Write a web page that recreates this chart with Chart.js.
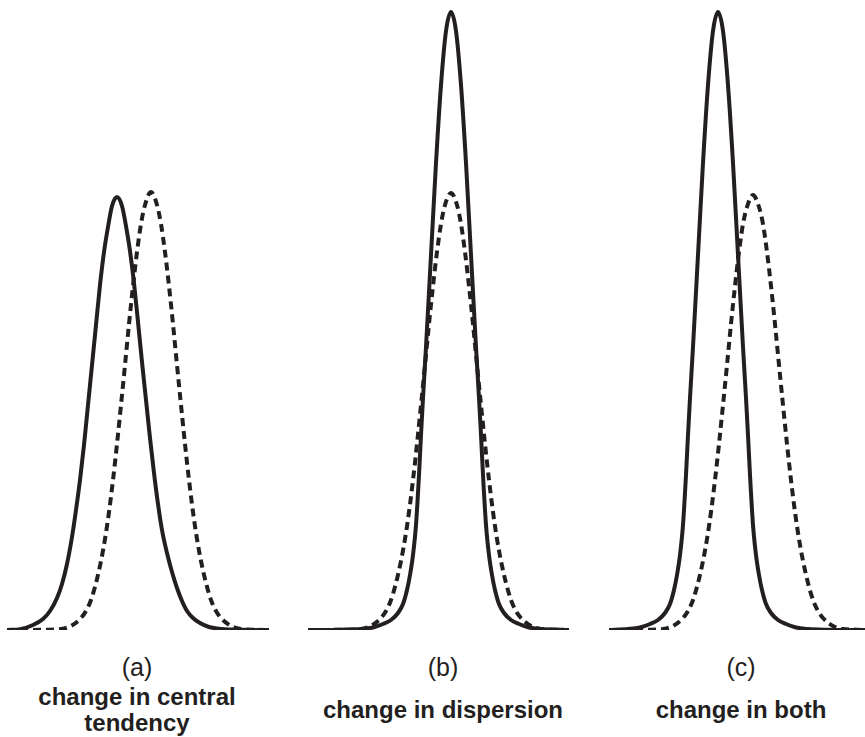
<!DOCTYPE html>
<html>
<head>
<meta charset="utf-8">
<script src="https://cdn.jsdelivr.net/npm/chart.js@4"></script>
<style>
  body { margin: 0; background: #fff; }
  #wrap { position: relative; width: 865px; height: 737px; overflow: hidden; font-family: "Liberation Sans", Arial, sans-serif; color: #231f20; }
  canvas { position: absolute; top: 0; }
  .cap { position: absolute; text-align: center; width: 300px; }
  .letter { font-size: 25px; line-height: 28px; }
  .title { font-size: 24px; font-weight: bold; line-height: 26px; }
</style>
</head>
<body>
<div id="wrap">
  <canvas id="panelA" width="262" height="640" style="left:7px"></canvas>
  <canvas id="panelB" width="261" height="640" style="left:308px"></canvas>
  <canvas id="panelC" width="256" height="640" style="left:609px"></canvas>
</div>
<script>
// panel captions
const panelLetters = ["(a)", "(b)", "(c)"];
const panelTitles = [["change in central", "tendency"], ["change in dispersion"], ["change in both"]];

// curves: [position, height]
const solidA = [[0,0],[13,0.8],[26,5],[36,11],[43,19],[50,32],[55,46],[60,66],[65,93],[69,120],[73,150],[77,185],[81,225],[85,265],[89,305],[93,345],[97,378],[101,403],[105,424],[110,433],[115,424],[119,404],[123,379],[127,347],[131,308],[135,268],[139,230],[143,192],[147,157],[151,126],[155,100],[160,77],[165,58],[170,42],[175,29],[180,19],[186,12],[193,7],[202,3],[215,1],[235,0.3],[262,0]];
const dashedA = [[0,0],[40,0.3],[54,1],[64,4],[74,12],[79,19],[84,30],[89,47],[94,69],[98,91],[102,118],[106,150],[110,186],[114,225],[118,265],[122,306],[126,344],[130,378],[134,406],[138,425],[144,438],[150,425],[154,406],[158,378],[162,344],[166,306],[170,265],[174,225],[178,186],[182,150],[186,118],[190,91],[194,69],[199,47],[204,30],[209,19],[214,12],[224,4],[234,1],[248,0.3],[262,0]];

const solidB = [[0,0],[33,0.3],[53,1],[65,2.5],[75,6],[83,10],[90,17],[95,26],[99,40],[102,55],[105,75],[108,105],[111,155],[113,195],[115,232],[118,283],[123,375],[128,467],[133,545],[138,599],[143,618],[148,599],[153,545],[158,467],[163,375],[168,283],[171,232],[173,195],[175,155],[178,105],[181,75],[184,55],[187,40],[191,26],[196,17],[203,10],[211,6],[221,2.5],[233,1],[253,0.3],[261,0]];
const dashedB = [[0,0],[39,0.3],[53,1],[63,4],[73,12],[78,19],[83,30],[88,47],[93,69],[97,91],[101,118],[105,150],[109,186],[113,225],[117,265],[121,306],[125,344],[129,378],[133,406],[137,425],[143,437],[149,425],[153,406],[157,378],[161,344],[165,306],[169,265],[173,225],[177,186],[181,150],[185,118],[189,91],[193,69],[198,47],[203,30],[208,19],[213,12],[223,4],[233,1],[247,0.3],[261,0]];

const solidC = [[0,0],[19,1],[31,2.5],[41,6],[49,10],[56,17],[61,26],[65,40],[68,55],[71,75],[74,105],[77,155],[79,195],[81,232],[84,283],[89,375],[94,467],[99,545],[104,599],[109,618],[114,599],[119,545],[124,467],[129,375],[134,283],[137,232],[139,195],[141,155],[144,105],[147,75],[150,55],[153,40],[157,26],[162,17],[169,10],[177,6],[187,2.5],[199,1],[219,0.3],[256,0]];
const dashedC = [[0,0],[40,0.3],[54,1],[64,4],[74,12],[79,19],[84,30],[89,47],[94,69],[98,91],[102,118],[106,150],[110,186],[114,225],[118,265],[122,306],[126,344],[130,378],[134,406],[138,423],[144,435],[150,423],[154,406],[158,378],[162,344],[166,306],[170,265],[174,225],[178,186],[182,150],[186,118],[190,91],[194,69],[199,47],[204,30],[209,19],[214,12],[224,4],[234,1],[248,0.3],[256,0]];

const INK = "#231f20";
const HEIGHT_MAX = 630;

function toPoints(arr) {
  return arr.map((p) => ({ x: p[0], y: p[1] }));
}

function drawPanel(id, solid, dashed, width) {
  const ctx = document.getElementById(id).getContext("2d");
  new Chart(ctx, {
    type: "line",
    data: {
      datasets: [
        {
          data: toPoints(dashed),
          borderColor: INK,
          borderWidth: 4,
          borderDash: [8, 5],
          borderCapStyle: "butt",
          pointRadius: 0,
          cubicInterpolationMode: "monotone",
          fill: false,
        },
        {
          data: toPoints(solid),
          borderColor: INK,
          borderWidth: 4,
          pointRadius: 0,
          cubicInterpolationMode: "monotone",
          fill: false,
        },
      ],
    },
    options: {
      responsive: false,
      animation: false,
      devicePixelRatio: 1,
      layout: { padding: { left: 0, right: 0, top: 0, bottom: 10 } },
      plugins: { legend: { display: false }, tooltip: { enabled: false } },
      scales: {
        x: { type: "linear", min: 0, max: width, display: false },
        y: { min: 0, max: HEIGHT_MAX, display: false },
      },
    },
  });
}

drawPanel("panelA", solidA, dashedA, 262);
drawPanel("panelB", solidB, dashedB, 261);
drawPanel("panelC", solidC, dashedC, 256);

// captions under each panel
const wrap = document.getElementById("wrap");
const captionCenters = [137, 443, 741];
const titleTops = [684, 697, 697];
panelLetters.forEach((letter, i) => {
  const l = document.createElement("div");
  l.className = "cap letter";
  l.style.left = captionCenters[i] - 150 + "px";
  l.style.top = "653px";
  l.textContent = letter;
  wrap.appendChild(l);

  const t = document.createElement("div");
  t.className = "cap title";
  t.style.left = captionCenters[i] - 150 + "px";
  t.style.top = titleTops[i] + "px";
  t.innerHTML = panelTitles[i].join("<br>");
  wrap.appendChild(t);
});
</script>
</body>
</html>
